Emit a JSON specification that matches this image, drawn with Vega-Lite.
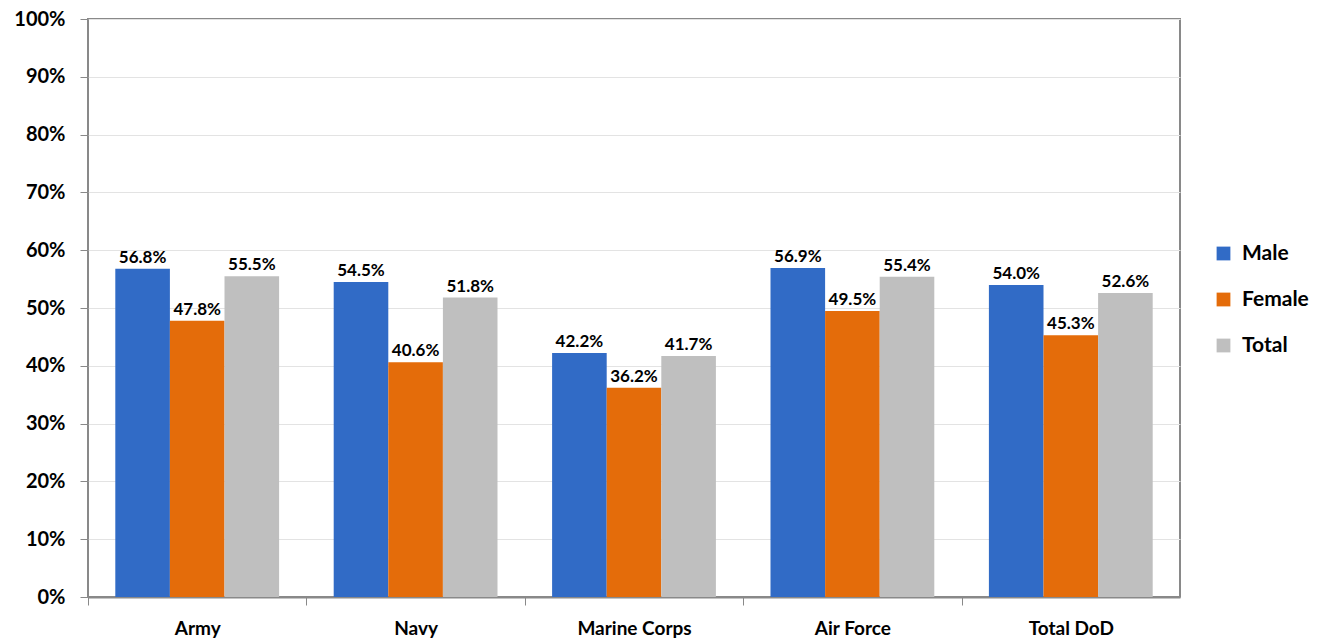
{
  "$schema": "https://vega.github.io/schema/vega-lite/v6.json",
  "width": 1092,
  "height": 578,
  "autosize": {"type": "none"},
  "padding": {"left": 88, "top": 19, "right": 142, "bottom": 43},
  "background": "white",
  "config": {
    "font": "Lato",
    "view": {"stroke": "#898989", "strokeWidth": 2},
    "axis": {"labelFont": "Lato", "labelFontWeight": "bold", "labelColor": "black"}
  },
  "data": {
    "values": [
      {"branch": "Army", "group": "Male", "value": 0.568},
      {"branch": "Army", "group": "Female", "value": 0.478},
      {"branch": "Army", "group": "Total", "value": 0.555},
      {"branch": "Navy", "group": "Male", "value": 0.545},
      {"branch": "Navy", "group": "Female", "value": 0.406},
      {"branch": "Navy", "group": "Total", "value": 0.518},
      {"branch": "Marine Corps", "group": "Male", "value": 0.422},
      {"branch": "Marine Corps", "group": "Female", "value": 0.362},
      {"branch": "Marine Corps", "group": "Total", "value": 0.417},
      {"branch": "Air Force", "group": "Male", "value": 0.569},
      {"branch": "Air Force", "group": "Female", "value": 0.495},
      {"branch": "Air Force", "group": "Total", "value": 0.554},
      {"branch": "Total DoD", "group": "Male", "value": 0.540},
      {"branch": "Total DoD", "group": "Female", "value": 0.453},
      {"branch": "Total DoD", "group": "Total", "value": 0.526}
    ]
  },
  "encoding": {
    "x": {
      "field": "branch", "type": "nominal",
      "sort": ["Army", "Navy", "Marine Corps", "Air Force", "Total DoD"],
      "scale": {"paddingInner": 0.25, "paddingOuter": 0.125},
      "axis": {
        "title": null, "labelAngle": 0, "labelFontSize": 19, "labelPadding": 14,
        "tickOffset": -109.2, "labelOffset": 109.2, "tickSize": 8, "tickColor": "#898989", "tickWidth": 1,
        "domainColor": "#898989", "domainWidth": 2
      }
    },
    "xOffset": {
      "field": "group", "type": "nominal",
      "sort": ["Male", "Female", "Total"],
      "scale": {"paddingInner": 0, "paddingOuter": 0}
    },
    "y": {
      "field": "value", "type": "quantitative",
      "scale": {"domain": [0, 1]},
      "axis": {
        "title": null, "values": [0,0.1,0.2,0.3,0.4,0.5,0.6,0.7,0.8,0.9,1],
        "format": ".0%", "labelFontSize": 20, "labelPadding": 15,
        "tickSize": 8, "tickColor": "#898989", "domain": false,
        "grid": true, "gridColor": "#e3e3e3", "gridWidth": 1
      }
    }
  },
  "layer": [
    {
      "mark": {"type": "bar"},
      "encoding": {
        "color": {
          "field": "group", "type": "nominal",
          "sort": ["Male", "Female", "Total"],
          "scale": {"domain": ["Male", "Female", "Total"], "range": ["#316BC6", "#E46C0A", "#BFBFBF"]},
          "legend": {
            "title": null, "orient": "none", "legendX": 1125, "legendY": 224,
            "symbolType": "square", "symbolSize": 190, "symbolStrokeWidth": 0,
            "labelFont": "Lato", "labelFontSize": 21, "labelFontWeight": "bold", "labelColor": "black",
            "rowPadding": 24, "labelOffset": 8
          }
        }
      }
    },
    {
      "mark": {"type": "text", "baseline": "bottom", "dy": -2, "fontSize": 17, "fontWeight": "bold", "font": "Lato", "color": "black"},
      "encoding": {
        "text": {"field": "value", "type": "quantitative", "format": ".1%"},
        "detail": {"field": "group"}
      }
    }
  ]
}
